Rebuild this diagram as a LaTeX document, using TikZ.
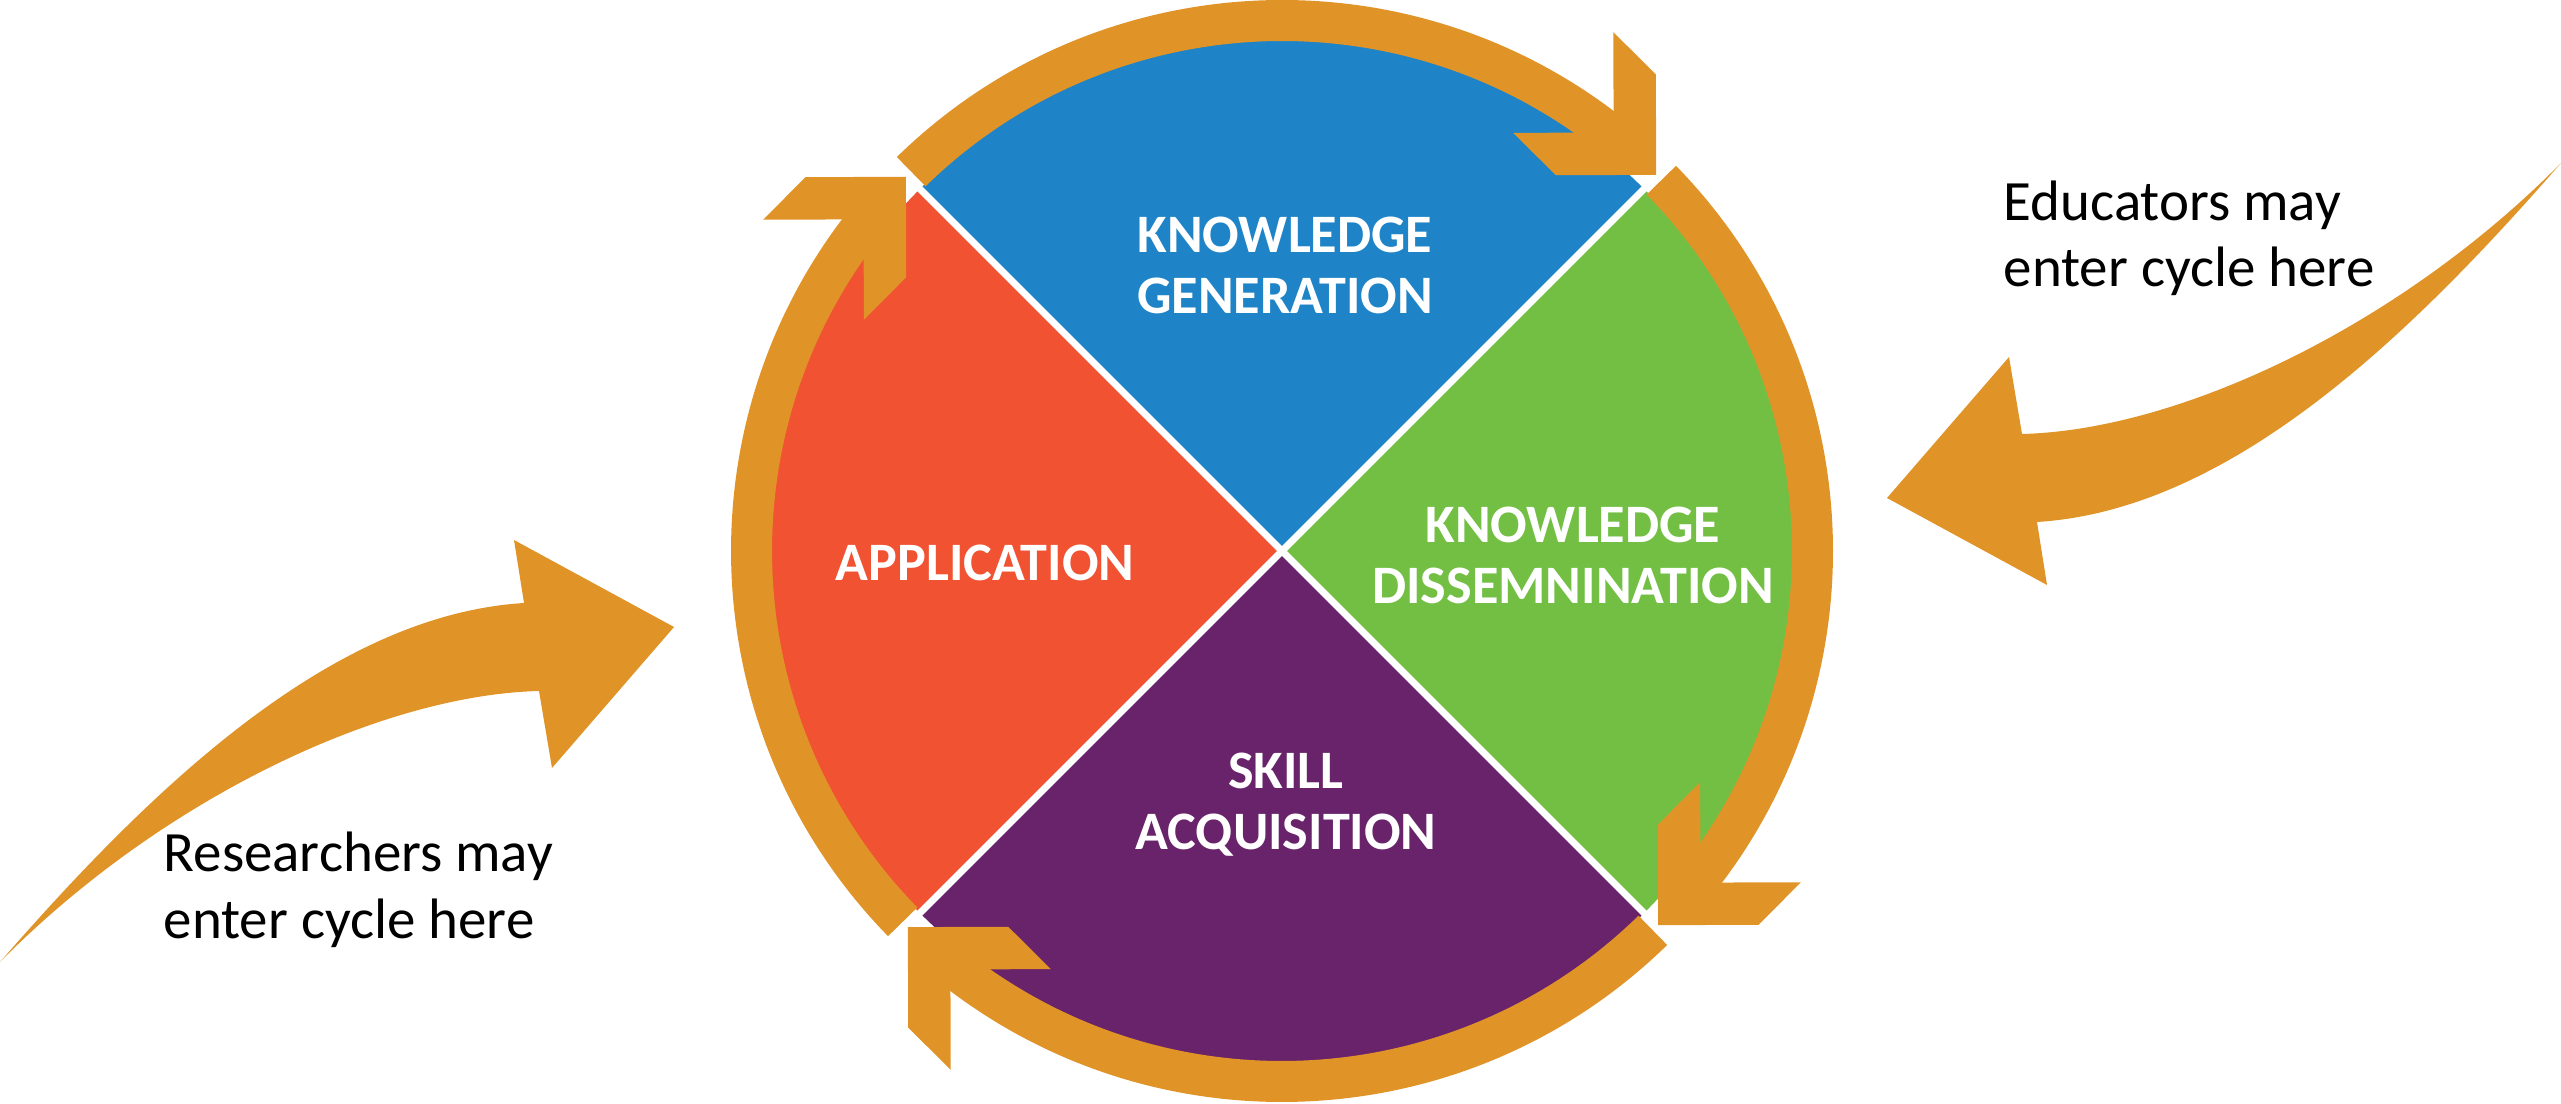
\documentclass[tikz,border=0pt]{standalone}
\usepackage{fontspec}
\setmainfont{Carlito}
\definecolor{ringor}{RGB}{224,148,40}
\definecolor{kgblue}{RGB}{30,132,199}
\definecolor{kdgreen}{RGB}{114,191,68}
\definecolor{appred}{RGB}{240,82,50}
\definecolor{skpurple}{RGB}{104,35,106}
\begin{document}
\begin{tikzpicture}[x=0.01cm,y=0.01cm,
  lab/.style={text=white, font=\bfseries\fontsize{15.4}{17.6}\selectfont, align=center, inner sep=0pt},
  note/.style={text=black, font=\fontsize{16.2}{18.8}\selectfont, align=left, inner sep=0pt}]
\useasboundingbox (0,0) rectangle (2561,1103);
\fill[white] (0,0) rectangle (2561,1103);

\begin{scope}[shift={(1282,552)}]
  % quadrants
  \fill[kgblue]   (0,0) -- (45:512)  arc[start angle=45,  end angle=135, radius=512] -- cycle;
  \fill[appred]   (0,0) -- (135:512) arc[start angle=135, end angle=225, radius=512] -- cycle;
  \fill[skpurple] (0,0) -- (225:512) arc[start angle=225, end angle=315, radius=512] -- cycle;
  \fill[kdgreen]  (0,0) -- (-45:512) arc[start angle=-45, end angle=45,  radius=512] -- cycle;
  \foreach \a in {45,135,225,315}
    \draw[white, line width=0.07cm] (0,0) -- (\a:514);
  % ring arrows
  \foreach \d in {135,45,-45,-135} {
    \fill[ringor] (\d-0.65:551) arc[start angle=\d-0.65, end angle=\d-85, radius=551]
      -- (\d-85:510) arc[start angle=\d-85, end angle=\d-0.65, radius=510] -- cycle;
    \begin{scope}[shift={(\d-89.85:530.5)}, rotate=\d-179.85]
      \fill[ringor] (0,0) -- (-71,71) -- (-131,71) -- (-60,0) -- (-131,-71) -- (-71,-71) -- cycle;
    \end{scope}
  }
\end{scope}

% entry arrows
\fill[ringor] (0,141) .. controls (150,313) and (330,488) .. (524,500) -- (514,563) -- (674,476)
  -- (552,335) -- (539,412) .. controls (380,408) and (160,303) .. (0,141) -- cycle;
\begin{scope}[rotate around={180:(1280.5,540.5)}]
\fill[ringor] (0,141) .. controls (150,313) and (330,488) .. (524,500) -- (514,563) -- (674,476)
  -- (552,335) -- (539,412) .. controls (380,408) and (160,303) .. (0,141) -- cycle;
\end{scope}

% labels (anchor base = baseline of the last line)
\node[lab, anchor=base] (kg) at (1285,789) {KNOWLEDGE\\GENERATION};
\node[lab, anchor=base] (app) at (985,522) {APPLICATION};
\node[lab, anchor=base] (kd) at (1573,499) {KNOWLEDGE\\DISSEMNINATION};
\node[lab, anchor=base] (sk) at (1286,253) {SKILL\\ACQUISITION};
\node[note, anchor=base west] (res) at (163,165) {Researchers may\\enter cycle here};
\node[note, anchor=base west] (edu) at (2003,816) {Educators may\\enter cycle here};
\end{tikzpicture}
\end{document}
